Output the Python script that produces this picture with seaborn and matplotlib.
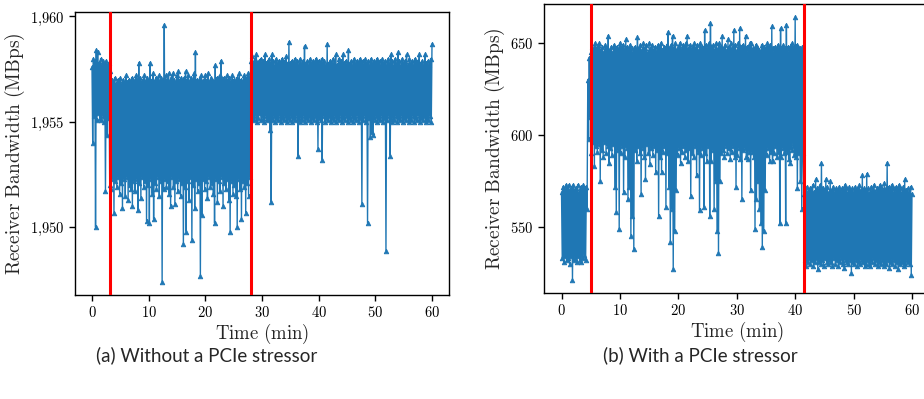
import numpy as np
import pandas as pd
import matplotlib
matplotlib.use("Agg")
import matplotlib.pyplot as plt
from matplotlib.ticker import MultipleLocator, FuncFormatter
import seaborn as sns

# ---------------- data ----------------
time_min = np.arange(0, 60.0625, 0.125)  # sampling grid, minutes (481 samples)

# (a) Without a PCIe stressor -- one row = 2.5 min (20 samples)
a_bw = [
    1957.6, 1954.0, 1958.0, 1955.3, 1957.9, 1950.0, 1958.4, 1955.1, 1958.3, 1955.4,
    1957.8, 1955.2, 1958.0, 1955.1, 1957.7, 1955.3, 1957.9, 1955.0, 1957.8, 1951.7,  # 0
    1957.9, 1954.4, 1957.7, 1955.2, 1957.8, 1952.0, 1957.4, 1951.8, 1957.0, 1952.3,
    1956.9, 1950.7, 1957.1, 1952.2, 1956.8, 1951.9, 1957.0, 1952.4, 1956.9, 1951.6,  # 2.5
    1957.1, 1952.1, 1956.8, 1950.9, 1957.0, 1952.3, 1956.9, 1951.5, 1957.2, 1952.4,
    1956.9, 1951.3, 1957.0, 1952.0, 1956.8, 1951.8, 1957.1, 1951.0, 1957.0, 1952.2,  # 5
    1956.9, 1951.7, 1957.2, 1952.3, 1957.0, 1950.8, 1957.8, 1952.1, 1957.1, 1951.4,
    1956.9, 1952.4, 1957.0, 1951.9, 1957.2, 1952.2, 1956.9, 1950.3, 1957.1, 1952.0,  # 7.5
    1957.0, 1950.2, 1957.8, 1952.3, 1957.0, 1951.6, 1957.3, 1950.4, 1956.9, 1952.1,
    1957.1, 1951.8, 1957.0, 1952.4, 1957.2, 1951.5, 1956.9, 1952.2, 1957.1, 1947.4,  # 10
    1957.0, 1951.8, 1959.6, 1952.3, 1957.2, 1951.9, 1957.0, 1952.2, 1957.3, 1951.6,
    1956.9, 1951.0, 1957.1, 1952.4, 1957.3, 1951.9, 1957.0, 1951.1, 1956.9, 1952.2,  # 12.5
    1957.2, 1951.7, 1957.4, 1952.3, 1957.0, 1951.5, 1957.1, 1952.1, 1956.9, 1949.2,
    1957.1, 1951.9, 1957.4, 1949.8, 1957.0, 1952.2, 1957.2, 1951.3, 1956.9, 1952.4,  # 15
    1957.1, 1949.4, 1957.0, 1952.0, 1957.3, 1950.9, 1958.3, 1952.3, 1957.0, 1951.7,
    1956.9, 1952.1, 1957.1, 1947.7, 1957.2, 1950.6, 1956.9, 1952.3, 1957.0, 1951.8,  # 17.5
    1957.2, 1952.2, 1957.0, 1951.4, 1957.3, 1952.4, 1956.9, 1951.9, 1957.1, 1952.1,
    1957.0, 1951.6, 1956.9, 1950.2, 1957.7, 1952.3, 1957.1, 1951.2, 1957.0, 1952.2,  # 20
    1957.2, 1951.7, 1957.9, 1952.4, 1957.0, 1951.0, 1957.1, 1952.1, 1956.9, 1951.8,
    1957.2, 1952.3, 1957.0, 1951.3, 1957.1, 1949.8, 1956.9, 1952.2, 1957.2, 1951.6,  # 22.5
    1957.0, 1952.0, 1956.9, 1951.5, 1957.1, 1950.0, 1957.0, 1952.3, 1957.3, 1951.8,
    1957.0, 1950.4, 1956.9, 1952.2, 1957.2, 1951.9, 1957.1, 1950.7, 1957.0, 1952.1,  # 25
    1957.3, 1951.5, 1957.1, 1952.4, 1957.9, 1955.4, 1958.1, 1955.2, 1957.8, 1955.1,
    1958.0, 1955.3, 1958.2, 1955.0, 1957.8, 1955.2, 1957.9, 1955.4, 1958.0, 1955.1,  # 27.5
    1957.8, 1955.2, 1957.9, 1955.0, 1958.2, 1955.3, 1957.8, 1955.1, 1957.9, 1955.2,
    1958.0, 1954.6, 1957.8, 1951.2, 1958.2, 1955.1, 1957.9, 1955.3, 1957.7, 1955.0,  # 30
    1958.0, 1955.2, 1957.8, 1955.1, 1957.9, 1955.3, 1957.7, 1955.0, 1958.0, 1955.2,
    1957.8, 1955.1, 1957.9, 1955.3, 1958.1, 1955.0, 1957.8, 1955.2, 1958.8, 1955.1,  # 32.5
    1957.8, 1955.3, 1957.9, 1955.0, 1957.7, 1955.2, 1958.0, 1955.1, 1957.8, 1955.3,
    1957.9, 1953.4, 1957.7, 1955.0, 1958.0, 1955.2, 1957.8, 1955.1, 1957.9, 1955.3,  # 35
    1958.6, 1955.0, 1957.8, 1955.2, 1957.9, 1955.1, 1957.7, 1955.3, 1958.0, 1955.0,
    1957.8, 1955.2, 1957.9, 1955.1, 1957.7, 1955.3, 1958.0, 1955.0, 1957.8, 1953.7,  # 37.5
    1957.9, 1955.2, 1957.7, 1955.1, 1958.0, 1953.2, 1957.8, 1955.3, 1957.9, 1955.0,
    1957.7, 1955.2, 1958.7, 1955.1, 1957.8, 1955.3, 1957.9, 1955.0, 1957.7, 1955.2,  # 40
    1958.0, 1955.1, 1957.8, 1955.3, 1958.2, 1955.0, 1957.7, 1955.2, 1958.0, 1955.1,
    1957.8, 1955.3, 1957.9, 1955.0, 1958.2, 1955.2, 1957.8, 1955.1, 1957.9, 1955.3,  # 42.5
    1957.7, 1955.0, 1958.4, 1955.2, 1957.8, 1955.1, 1957.9, 1955.3, 1957.7, 1955.0,
    1958.0, 1955.2, 1957.8, 1955.1, 1957.9, 1955.3, 1957.7, 1955.0, 1958.0, 1955.2,  # 45
    1957.8, 1951.1, 1957.9, 1955.1, 1957.7, 1955.3, 1958.0, 1955.0, 1957.8, 1950.2,
    1957.9, 1955.2, 1957.7, 1954.3, 1958.0, 1954.5, 1957.8, 1954.4, 1957.9, 1955.1,  # 47.5
    1957.7, 1955.3, 1958.0, 1955.0, 1957.8, 1955.2, 1957.9, 1955.1, 1957.7, 1955.3,
    1958.0, 1955.0, 1957.8, 1955.2, 1957.9, 1948.9, 1957.7, 1955.1, 1958.0, 1955.3,  # 50
    1957.8, 1953.4, 1958.2, 1955.0, 1957.9, 1955.2, 1957.7, 1955.1, 1958.0, 1955.3,
    1957.8, 1955.0, 1958.3, 1955.2, 1957.9, 1955.1, 1957.7, 1955.3, 1958.0, 1955.0,  # 52.5
    1957.8, 1955.2, 1957.9, 1955.1, 1958.2, 1955.3, 1957.7, 1955.0, 1958.0, 1955.2,
    1957.8, 1955.1, 1957.9, 1955.3, 1957.7, 1955.0, 1958.0, 1955.2, 1957.8, 1955.1,  # 55
    1957.9, 1955.3, 1958.2, 1955.0, 1957.8, 1955.2, 1957.9, 1955.1, 1957.7, 1955.3,
    1958.2, 1955.0, 1957.8, 1955.2, 1957.9, 1955.1, 1957.7, 1955.3, 1958.0, 1955.0,  # 57.5
    1958.7,                                                                          # 60
]
a_events = [3.1, 28.0]

# (b) With a PCIe stressor -- one row = 2.5 min (20 samples)
b_bw = [
    569, 533, 572, 531, 570, 534, 573, 532, 571, 533,
    573, 530, 570, 534, 572, 521.3, 573, 532, 570, 533,  # 0
    571, 531, 573, 534, 569, 532, 572, 531, 570, 533,
    573, 535, 571, 532, 572, 560, 630, 598, 642, 610,    # 2.5
    645, 590, 648, 596, 646, 583, 650, 594, 647, 591,
    649, 595, 650, 575, 646, 592, 648, 588, 645, 596,    # 5
    649, 590, 647, 594, 654, 585, 646, 593, 648, 589,
    645, 595, 649, 572, 647, 558, 648, 592, 646, 549,    # 7.5
    650, 590, 647, 594, 649, 569, 646, 588, 652, 593,
    648, 565, 646, 572, 649, 545, 647, 556, 645, 538,    # 10
    648, 592, 646, 586, 653, 594, 647, 590, 649, 568,
    646, 593, 650, 588, 647, 576, 649, 595, 645, 590,    # 12.5
    650, 584, 647, 593, 649, 589, 646, 594, 648, 580,
    645, 592, 649, 556, 647, 588, 650, 580, 646, 591,    # 15
    648, 594, 647, 561, 649, 590, 656, 572, 647, 542,
    649, 560, 654, 527, 647, 548, 650, 570, 646, 589,    # 17.5
    648, 593, 650, 585, 646, 591, 649, 594, 647, 588,
    650, 592, 654, 586, 647, 593, 649, 567, 646, 590,    # 20
    648, 588, 650, 594, 647, 578, 649, 591, 646, 559,
    650, 589, 648, 593, 647, 561, 657, 590, 649, 586,    # 22.5
    647, 594, 650, 556, 661, 586, 648, 592, 649, 560,
    646, 575, 650, 548, 647, 536, 650, 575, 648, 590,    # 25
    654, 592, 647, 588, 649, 594, 646, 590, 652, 593,
    648, 587, 650, 591, 647, 594, 657, 588, 649, 572,    # 27.5
    646, 589, 650, 593, 658, 587, 648, 565, 649, 592,
    647, 593, 654, 588, 648, 587, 647, 591, 650, 570,    # 30
    650, 591, 647, 588, 646, 549, 649, 565, 648, 575,
    646, 560, 645, 552, 649, 539, 647, 548, 648, 570,    # 32.5
    647, 589, 650, 593, 648, 586, 649, 591, 659, 586,
    647, 590, 648, 594, 646, 588, 649, 591, 647, 552,    # 35
    658, 588, 648, 593, 649, 590, 647, 552, 660, 591,
    648, 587, 647, 585, 649, 592, 650, 594, 648, 589,    # 37.5
    664, 588, 649, 571, 648, 590, 647, 575, 646, 560,
    648, 590, 568, 532, 570, 529, 572, 531, 569, 533,    # 40
    571, 530, 570, 532, 573, 529, 569, 531, 576, 533,
    571, 527, 570, 531, 573, 530, 585, 532, 571, 529,    # 42.5
    570, 533, 576, 531, 572, 530, 569, 532, 575, 531,
    570, 529, 572, 533, 569, 530, 571, 532, 570, 529,    # 45
    572, 531, 569, 533, 571, 530, 570, 528, 573, 532,
    571, 531, 569, 530, 572, 532, 570, 525, 571, 531,    # 47.5
    569, 530, 572, 532, 570, 529, 571, 531, 573, 530,
    570, 532, 578, 531, 571, 529, 570, 530, 579, 532,    # 50
    571, 530, 569, 529, 572, 531, 570, 533, 573, 530,
    569, 532, 571, 529, 570, 531, 573, 530, 572, 532,    # 52.5
    570, 529, 574, 531, 571, 530, 585, 532, 572, 528,
    570, 531, 573, 530, 571, 532, 569, 529, 572, 531,    # 55
    570, 527, 573, 530, 571, 532, 569, 531, 572, 529,
    576, 530, 570, 532, 571, 531, 569, 530, 572, 524,    # 57.5
    568,                                                 # 60
]
b_events = [5.0, 41.5]

a_values = np.array(a_bw, dtype=float)
b_values = np.array(b_bw, dtype=float)
assert len(a_values) == len(time_min) and len(b_values) == len(time_min)

df_a = pd.DataFrame({"Time (min)": time_min, "bw": a_values})
df_b = pd.DataFrame({"Time (min)": time_min, "bw": b_values})

# ---------------- style ----------------
sns.set_style("ticks")
plt.rcParams.update({
    "font.family": ["DejaVu Serif"],
    "mathtext.fontset": "cm",
    "axes.edgecolor": "black",
    "axes.linewidth": 1.0,
    "xtick.color": "black",
    "ytick.color": "black",
    "xtick.major.size": 4.0,
    "ytick.major.size": 4.0,
    "xtick.major.width": 1.0,
    "ytick.major.width": 1.0,
})

fig = plt.figure(figsize=(9.24, 3.99), dpi=100)
ax_a = fig.add_axes([75 / 924, 1 - 295 / 399, (449 - 75) / 924, (295 - 12) / 399])
ax_b = fig.add_axes([544 / 924, 1 - 293 / 399, (929.5 - 544) / 924, (293 - 4) / 399])

blue = "#1f77b4"

def tick_fmt_thousands(v, pos):
    s = f"{v:,.0f}".replace(",", "{,}")
    return rf"${s}$"

for ax, df, events, step in [(ax_a, df_a, a_events, 5), (ax_b, df_b, b_events, 50)]:
    sns.lineplot(data=df, x="Time (min)", y="bw", ax=ax, estimator=None, sort=False,
                 color=blue, linewidth=1.0, marker="^", markersize=3.3,
                 markeredgewidth=0.6, markeredgecolor=blue)
    for ev in events:
        ax.axvline(ev, color="red", linewidth=2.2, zorder=5)
    ax.xaxis.set_major_locator(MultipleLocator(10))
    ax.yaxis.set_major_locator(MultipleLocator(step))
    ax.yaxis.set_major_formatter(FuncFormatter(tick_fmt_thousands))
    ax.xaxis.set_major_formatter(FuncFormatter(lambda v, p: rf"${v:.0f}$"))
    ax.tick_params(labelsize=10.5)
    ax.set_xlabel(r"$\mathrm{Time\ (min)}$", fontsize=13.5, labelpad=1)
    ax.set_ylabel(r"$\mathrm{Receiver\ Bandwidth\ (MBps)}$", fontsize=14, labelpad=2)
    for s in ax.spines.values():
        s.set_visible(True)

fig.text(207 / 924, 1 - 355 / 399, "(a) Without a PCIe stressor", ha="center", va="center",
         fontsize=13.5, family=["Lato", "DejaVu Sans"])
fig.text(700 / 924, 1 - 355 / 399, "(b) With a PCIe stressor", ha="center", va="center",
         fontsize=13.5, family=["Lato", "DejaVu Sans"])

fig.savefig("out.png", dpi=100)
